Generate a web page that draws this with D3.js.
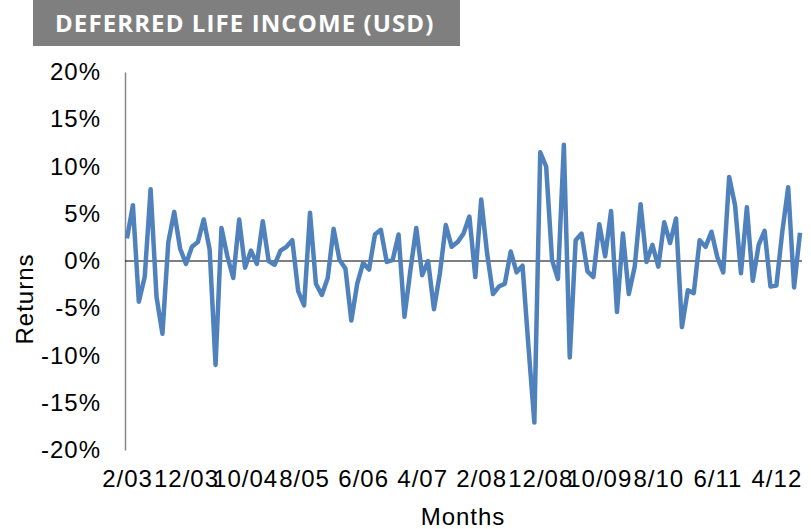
<!DOCTYPE html>
<html>
<head>
<meta charset="utf-8">
<script src="https://cdn.jsdelivr.net/npm/d3@7"></script>
<style>
  body { margin: 0; background: #fff; }
  svg { display: block; }
</style>
</head>
<body>
<svg id="chart" width="811" height="529"></svg>
<script>
// monthly returns in %, 2/03 .. 8/12
var returns = [
  2.4, 5.9, -4.3, -1.7, 7.6, -3.8, -7.7, 2.0, 5.2, 1.3,
  -0.3, 1.5, 2.0, 4.4, 1.2, -11.0, 3.5, 0.5, -1.8, 4.4,
  -0.7, 1.1, -0.3, 4.2, 0.0, -0.4, 1.1, 1.5, 2.2, -3.2,
  -4.7, 5.1, -2.4, -3.6, -1.8, 3.4, 0.1, -0.8, -6.3, -2.4,
  -0.2, -0.9, 2.8, 3.3, -0.1, 0.1, 2.8, -5.9, -1.0, 3.5,
  -1.5, 0.0, -5.1, -1.3, 3.8, 1.5, 2.0, 2.9, 4.7, -1.7,
  6.5, 0.8, -3.5, -2.7, -2.4, 1.0, -1.2, -0.5, -9.0, -17.1,
  11.5, 10.0, 0.1, -1.9, 12.3, -10.2, 2.2, 2.9, -1.1, -1.7,
  3.9, 0.5, 5.3, -5.4, 2.9, -3.5, -0.6, 6.0, -0.1, 1.7,
  -0.6, 4.1, 1.9, 4.5, -7.0, -3.1, -3.4, 2.2, 1.5, 3.1,
  0.4, -1.2, 8.9, 5.9, -1.3, 5.7, -2.1, 1.7, 3.2, -2.7,
  -2.6, 3.1, 7.8, -2.8, 3.0
];

var xTickLabels = ["2/03", "12/03", "10/04", "8/05", "6/06", "4/07",
                   "2/08", "12/08", "10/09", "8/10", "6/11", "4/12"];
var yTickValues = [20, 15, 10, 5, 0, -5, -10, -15, -20];

var title = "DEFERRED LIFE INCOME (USD)";

// category labels m/yy, starting Feb 2003
var months = returns.map(function (d, i) {
    var m = (1 + i) % 12 + 1;
    var y = 3 + Math.floor((1 + i) / 12);
    return m + "/" + String(y).padStart(2, "0");
});

var svg = d3.select("#chart");
var font = "'Liberation Sans', Arial, sans-serif";

function labelStyle(sel) {
    sel.attr("fill", "#000")
        .style("font-family", font)
        .style("font-size", "24px")
        .style("letter-spacing", "1px");
}

// title bar
svg.append("rect")
    .attr("x", 33).attr("y", 0)
    .attr("width", 427).attr("height", 46)
    .attr("fill", "#7f7f7f");

svg.append("text")
    .attr("x", 55).attr("y", 32)
    .attr("fill", "#fff")
    .style("font-family", "'Open Sans', sans-serif")
    .style("font-weight", "bold")
    .style("font-size", "24px")
    .style("letter-spacing", "1.1px")
    .text(title);

var x = d3.scalePoint()
    .domain(months)
    .range([127, 800]);

var y = d3.scaleLinear()
    .domain([-20, 20])
    .range([450, 72]);

// y axis (line + labels, no ticks)
var yAxis = d3.axisLeft(y)
    .tickValues(yTickValues)
    .tickFormat(function (d) { return d + "%"; })
    .tickSize(0)
    .tickPadding(24);

var gy = svg.append("g")
    .attr("transform", "translate(125,0)")
    .call(yAxis);

gy.select(".domain")
    .attr("stroke", "#868686")
    .attr("stroke-width", 1.5);

gy.selectAll("text").call(labelStyle);

// x axis labels only
var xAxis = d3.axisBottom(x)
    .tickValues(xTickLabels)
    .tickSize(0)
    .tickPadding(0);

var gx = svg.append("g")
    .attr("transform", "translate(0,487)")
    .call(xAxis);

gx.select(".domain").remove();
gx.selectAll("text")
    .attr("dy", "0")
    .call(labelStyle);

// zero line
svg.append("line")
    .attr("x1", 125).attr("x2", 802)
    .attr("y1", y(0)).attr("y2", y(0))
    .attr("stroke", "#000")
    .attr("stroke-width", 1.2);

// returns line
var line = d3.line()
    .x(function (d, i) { return x(months[i]); })
    .y(function (d) { return y(d); });

svg.append("path")
    .datum(returns)
    .attr("fill", "none")
    .attr("stroke", "#4f81bd")
    .attr("stroke-width", 4.5)
    .attr("stroke-linejoin", "round")
    .attr("d", line);

// axis titles
svg.append("text")
    .attr("transform", "translate(33,299) rotate(-90)")
    .attr("text-anchor", "middle")
    .call(labelStyle)
    .text("Returns");

svg.append("text")
    .attr("x", 463).attr("y", 525)
    .attr("text-anchor", "middle")
    .call(labelStyle)
    .text("Months");
</script>
</body>
</html>
